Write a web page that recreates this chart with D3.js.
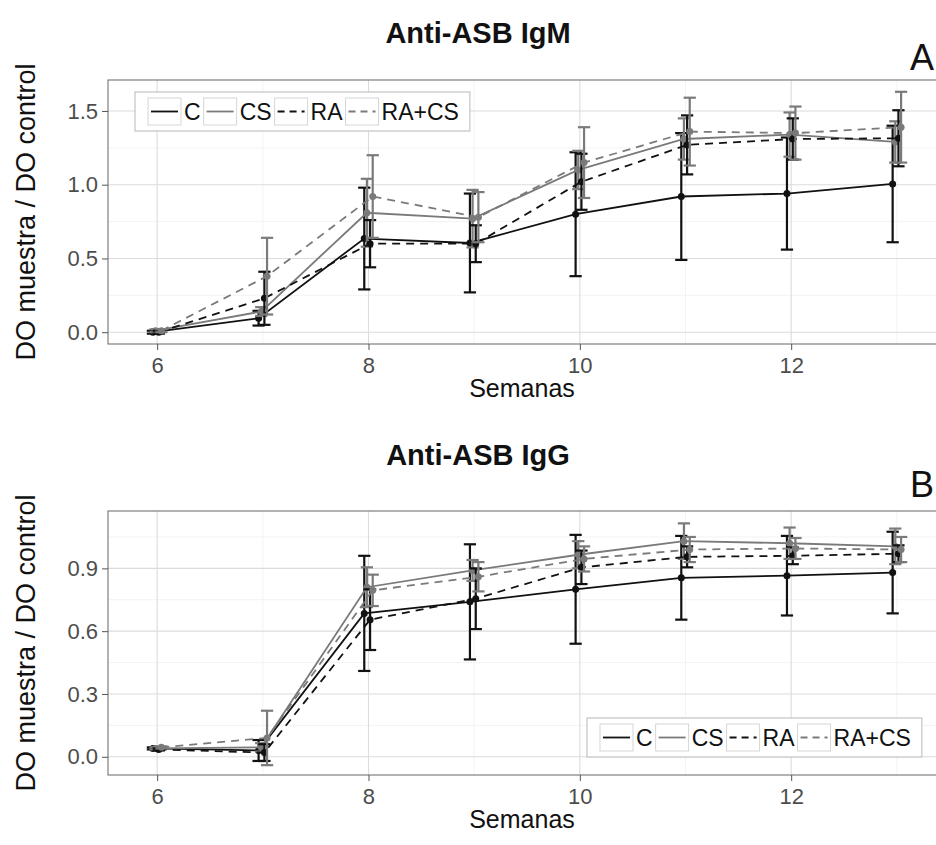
<!DOCTYPE html>
<html>
<head>
<meta charset="utf-8">
<script src="https://cdn.jsdelivr.net/npm/d3@7"></script>
<style>
  body { margin: 0; background: #fff; }
  svg { display: block; }
  text { font-family: "Liberation Sans", Arial, sans-serif; }
</style>
</head>
<body>
<div id="chart"></div>
<script>
// weeks and groups
const weeks = [6, 7, 8, 9, 10, 11, 12, 13];
const groups = ["C", "CS", "RA", "RA+CS"];

// Anti-ASB IgM: means and SD per group
const igmC = [0.00, 0.095, 0.635, 0.605, 0.80, 0.92, 0.94, 1.005];
const igmCS = [0.01, 0.14, 0.81, 0.77, 1.10, 1.31, 1.34, 1.29];
const igmRA = [0.00, 0.23, 0.60, 0.60, 1.02, 1.27, 1.31, 1.315];
const igmRACS = [0.01, 0.38, 0.92, 0.78, 1.15, 1.36, 1.35, 1.39];
const igmCSd = [0.01, 0.05, 0.345, 0.335, 0.42, 0.43, 0.38, 0.395];
const igmCSSd = [0.01, 0.03, 0.23, 0.195, 0.13, 0.14, 0.15, 0.14];
const igmRASd = [0.01, 0.18, 0.16, 0.125, 0.19, 0.20, 0.14, 0.19];
const igmRACSSd = [0.01, 0.26, 0.28, 0.17, 0.24, 0.23, 0.18, 0.24];

// Anti-ASB IgG: means and SD per group
const iggC = [0.04, 0.03, 0.685, 0.74, 0.80, 0.855, 0.865, 0.88];
const iggCS = [0.04, 0.045, 0.81, 0.89, 0.965, 1.03, 1.02, 1.005];
const iggRA = [0.035, 0.02, 0.655, 0.755, 0.905, 0.955, 0.96, 0.97];
const iggRACS = [0.045, 0.09, 0.795, 0.86, 0.945, 0.99, 0.995, 0.99];
const iggCSd = [0.005, 0.05, 0.275, 0.275, 0.26, 0.20, 0.19, 0.195];
const iggCSSd = [0.005, 0.02, 0.095, 0.05, 0.065, 0.085, 0.075, 0.085];
const iggRASd = [0.005, 0.04, 0.145, 0.145, 0.08, 0.05, 0.04, 0.04];
const iggRACSSd = [0.005, 0.13, 0.075, 0.07, 0.06, 0.06, 0.05, 0.06];

const igmTicks = [0, 0.5, 1.0, 1.5];
const iggTicks = [0, 0.3, 0.6, 0.9];

const width = 936, height = 845;
const grey = "#7a7a7a", black = "#111";
const styles = [
  { color: black, dash: null, off: -0.04 },
  { color: grey, dash: null, off: -0.015 },
  { color: black, dash: "8,6", off: 0.015 },
  { color: grey, dash: "8,6", off: 0.04 }
];

const svg = d3.select("#chart").append("svg")
  .attr("width", width)
  .attr("height", height)
  .style("background", "#fff");

const x = d3.scaleLinear().domain([5.535, 13.465]).range([108, 946]);

function drawPanel(p) {
  const y = d3.scaleLinear().domain(p.domain).range([p.bottom, p.top]);
  const g = svg.append("g");

  // minor grid
  const step = p.ticks[1] - p.ticks[0];
  const minorY = d3.range(p.domain[0], p.domain[1], step / 2)
    .map(v => Math.round(v / (step / 2)) * step / 2)
    .filter(v => !p.ticks.some(t => Math.abs(t - v) < 1e-6) && v > p.domain[0] && v < p.domain[1]);
  g.selectAll(".minor-y").data(minorY).enter().append("line")
    .attr("x1", x.range()[0]).attr("x2", x.range()[1])
    .attr("y1", d => y(d)).attr("y2", d => y(d))
    .attr("stroke", "#f0f0f0").attr("stroke-width", 0.8);
  g.selectAll(".minor-x").data([7, 9, 11, 13]).enter().append("line")
    .attr("x1", d => x(d)).attr("x2", d => x(d))
    .attr("y1", p.top).attr("y2", p.bottom)
    .attr("stroke", "#f0f0f0").attr("stroke-width", 0.8);

  // major grid
  g.selectAll(".major-y").data(p.ticks).enter().append("line")
    .attr("x1", x.range()[0]).attr("x2", x.range()[1])
    .attr("y1", d => y(d)).attr("y2", d => y(d))
    .attr("stroke", "#dcdcdc").attr("stroke-width", 1.1);
  g.selectAll(".major-x").data([6, 8, 10, 12]).enter().append("line")
    .attr("x1", d => x(d)).attr("x2", d => x(d))
    .attr("y1", p.top).attr("y2", p.bottom)
    .attr("stroke", "#dcdcdc").attr("stroke-width", 1.1);

  // series
  p.means.forEach((m, i) => {
    const s = styles[i];
    const pts = weeks.map((w, j) => ({ w: w + s.off, v: m[j], sd: p.sds[i][j] }));
    const sg = g.append("g");

    sg.selectAll("line.err").data(pts).enter().append("line")
      .attr("x1", d => x(d.w)).attr("x2", d => x(d.w))
      .attr("y1", d => y(d.v - d.sd)).attr("y2", d => y(d.v + d.sd))
      .attr("stroke", s.color).attr("stroke-width", 2.2);
    [-1, 1].forEach(sign => {
      sg.selectAll("line.cap" + sign).data(pts).enter().append("line")
        .attr("x1", d => x(d.w - 0.058)).attr("x2", d => x(d.w + 0.058))
        .attr("y1", d => y(d.v + sign * d.sd)).attr("y2", d => y(d.v + sign * d.sd))
        .attr("stroke", s.color).attr("stroke-width", 2.2);
    });

    sg.append("path")
      .datum(pts)
      .attr("d", d3.line().x(d => x(d.w)).y(d => y(d.v)))
      .attr("fill", "none")
      .attr("stroke", s.color)
      .attr("stroke-width", 1.8)
      .attr("stroke-dasharray", s.dash);

    sg.selectAll("circle").data(pts).enter().append("circle")
      .attr("cx", d => x(d.w)).attr("cy", d => y(d.v))
      .attr("r", 3.5).attr("fill", s.color);
  });

  // panel border
  g.append("rect")
    .attr("x", x.range()[0]).attr("y", p.top)
    .attr("width", x.range()[1] - x.range()[0]).attr("height", p.bottom - p.top)
    .attr("fill", "none").attr("stroke", "#7f7f7f").attr("stroke-width", 1.2);

  // axes
  const ay = g.append("g")
    .attr("transform", `translate(${x.range()[0]},0)`)
    .call(d3.axisLeft(y).tickValues(p.ticks).tickFormat(d3.format(".1f")).tickSize(6).tickPadding(4));
  const ax = g.append("g")
    .attr("transform", `translate(0,${p.bottom})`)
    .call(d3.axisBottom(x).tickValues([6, 8, 10, 12]).tickFormat(d3.format("d")).tickSize(6).tickPadding(7));
  [ax, ay].forEach(a => {
    a.select(".domain").remove();
    a.selectAll("line").attr("stroke", "#555");
    a.selectAll("text").attr("font-size", "22px").attr("fill", "#4d4d4d")
      .style("font-family", "'Liberation Sans', Arial, sans-serif");
  });

  // titles
  g.append("text")
    .attr("x", 478).attr("y", p.titleY)
    .attr("text-anchor", "middle")
    .attr("font-size", "29px").attr("font-weight", "bold").attr("fill", "#111")
    .text(p.title);
  g.append("text")
    .attr("x", 934).attr("y", p.letterY)
    .attr("text-anchor", "end")
    .attr("font-size", "36px").attr("fill", "#111")
    .text(p.letter);
  g.append("text")
    .attr("x", 522).attr("y", p.xTitleY)
    .attr("text-anchor", "middle")
    .attr("font-size", "25px").attr("fill", "#111")
    .text("Semanas");
  g.append("text")
    .attr("transform", `translate(35,${(p.top + p.bottom) / 2}) rotate(-90)`)
    .attr("text-anchor", "middle")
    .attr("font-size", "27px").attr("fill", "#111")
    .text("DO muestra / DO control");

  // legend
  const lg = g.append("g").attr("transform", `translate(${p.legendX},${p.legendY})`);
  const box = lg.append("rect")
    .attr("height", 39).attr("fill", "#fff")
    .attr("stroke", "#c4c4c4").attr("stroke-width", 1.2);
  let cx = 13;
  groups.forEach((name, i) => {
    const s = styles[i];
    lg.append("rect")
      .attr("x", cx).attr("y", 6).attr("width", 33).attr("height", 27)
      .attr("fill", "#fff").attr("stroke", "#d6d6d6").attr("stroke-width", 1);
    lg.append("line")
      .attr("x1", cx + 3).attr("x2", cx + 30)
      .attr("y1", 19.5).attr("y2", 19.5)
      .attr("stroke", s.color).attr("stroke-width", 1.8)
      .attr("stroke-dasharray", s.dash ? "7,5" : null);
    const t = lg.append("text")
      .attr("x", cx + 36).attr("y", 27.5)
      .attr("font-size", "23px").attr("fill", "#111")
      .text(name);
    cx += 36 + t.node().getComputedTextLength() + 3;
  });
  box.attr("width", cx + 8);
}

drawPanel({
  top: 80, bottom: 344, domain: [-0.08, 1.71], ticks: igmTicks,
  title: "Anti-ASB IgM", titleY: 43, letter: "A", letterY: 70, xTitleY: 397,
  means: [igmC, igmCS, igmRA, igmRACS],
  sds: [igmCSd, igmCSSd, igmRASd, igmRACSSd],
  legendX: 135, legendY: 92
});

drawPanel({
  top: 511, bottom: 775, domain: [-0.087, 1.174], ticks: iggTicks,
  title: "Anti-ASB IgG", titleY: 465, letter: "B", letterY: 497, xTitleY: 828,
  means: [iggC, iggCS, iggRA, iggRACS],
  sds: [iggCSd, iggCSSd, iggRASd, iggRACSSd],
  legendX: 587, legendY: 718
});
</script>
</body>
</html>
